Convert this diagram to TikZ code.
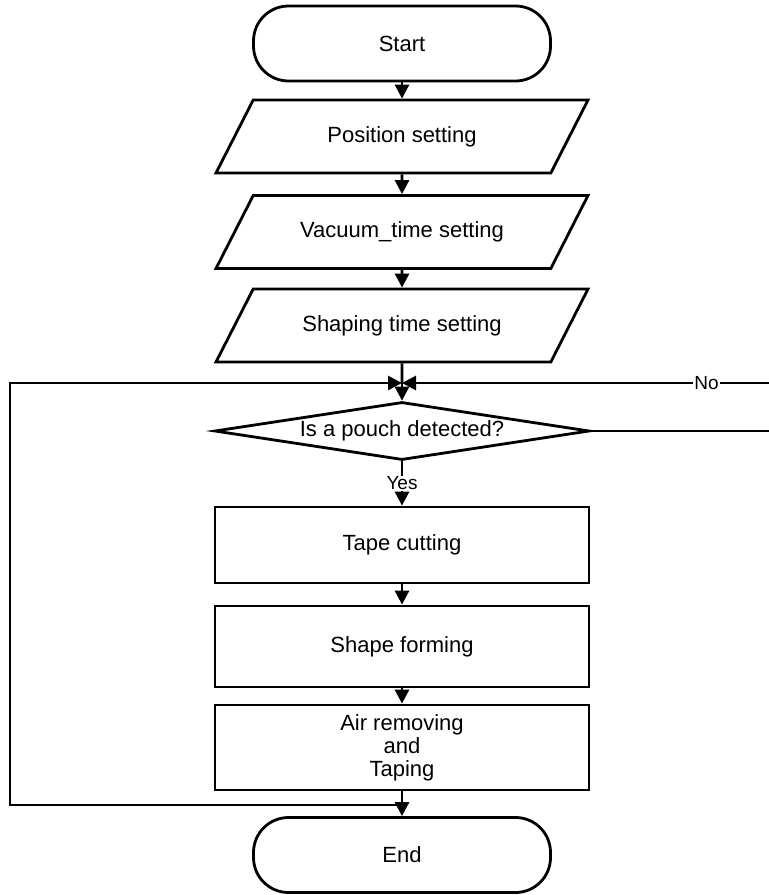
\documentclass[tikz,border=0pt]{standalone}
\usepackage{fontspec}
\setmainfont{Liberation Sans}
\usetikzlibrary{shapes.geometric,arrows.meta}

\begin{document}
\begin{tikzpicture}[
	x=1pt, y=-1pt,
	every node/.style={font=\fontsize{22}{23}\selectfont},
	line/.style={line width=2.8pt},
	arrow/.style={line width=2.8pt, -{Triangle[width=14pt,length=14pt]}},
	term/.style={draw, line width=2.8pt, rounded corners=35pt, minimum width=297pt, minimum height=75pt},
	io/.style={draw, line width=2.8pt, trapezium, trapezium left angle=63, trapezium right angle=117, trapezium stretches body,
		text height=16pt, text depth=5pt, inner ysep=26pt, minimum width=372pt},
	proc/.style={draw, line width=2.8pt, minimum width=374pt, align=center},
	decision/.style={draw, line width=2.8pt, diamond, aspect=6.5, inner sep=0pt, minimum width=375pt, minimum height=58pt},
	yesno/.style={fill=white, inner sep=1pt, font=\fontsize{19}{20}\selectfont}
]

\def\cx{402}
\useasboundingbox (0,0) rectangle (769,895);

% SHAPES
\node[term] (start) at (\cx,43.5) {Start};
\node[io] (pos) at (\cx,136.5) {Position setting};
\node[io] (vac) at (\cx,232) {Vacuum\_time setting};
\node[io] (shp) at (\cx,325.5) {Shaping time setting};
\node[decision] (dec) at (\cx,431) {Is a pouch detected?};
\node[proc, minimum height=76pt] (tape) at (\cx,545) {Tape cutting};
\node[proc, minimum height=81pt] (form) at (\cx,646.5) {Shape forming};
\node[proc, minimum height=85pt] (air) at (\cx,747.5) {Air removing\\and\\Taping};
\node[term] (end) at (\cx,855) {End};

% JUNCTIONS
\coordinate (jtop) at (\cx,383);
\coordinate (jbot) at (\cx,805);
\coordinate (ltop) at (10,383);
\coordinate (lbot) at (10,805);
\coordinate (rtop) at (769,383);
\coordinate (rmid) at (769,431);

% ARROWS
\draw[arrow] (start) -- (pos);
\draw[arrow] (pos) -- (vac);
\draw[arrow] (vac) -- (shp);
\draw[line] (shp) -- (jtop);
\draw[arrow] (jtop) -- (dec);
\draw[arrow] (dec) -- node[yesno] {Yes} (tape);
\draw[arrow] (tape) -- (form);
\draw[arrow] (form) -- (air);
\draw[arrow] (air) -- (end);

% LOOPS
\draw[arrow] (jbot) -- (lbot) -- (ltop) -- (jtop);
\draw[line] (dec) -- (rmid);
\draw[arrow] (rtop) -- node[yesno, pos=0.17] {No} (jtop);

\end{tikzpicture}
\end{document}
